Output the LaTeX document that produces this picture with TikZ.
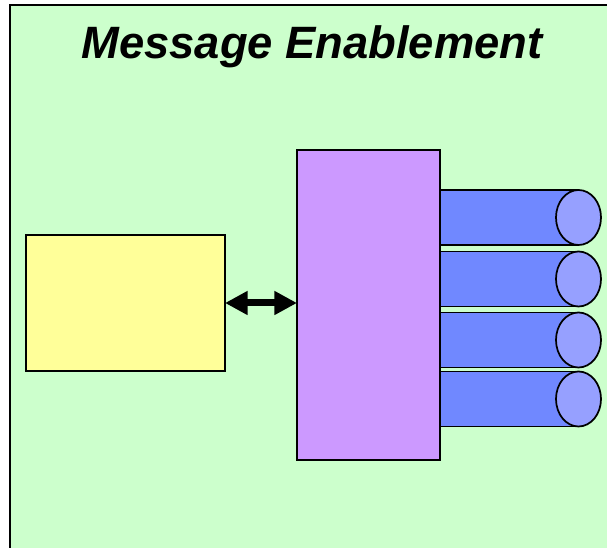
\documentclass[tikz,border=0pt]{standalone}
\usepackage{fontspec}
\setmainfont{Liberation Sans}
\usetikzlibrary{arrows.meta}
\definecolor{bggreen}{RGB}{204,255,204}
\definecolor{boxyellow}{RGB}{255,255,153}
\definecolor{boxpurple}{RGB}{204,153,255}
\definecolor{cylblue}{RGB}{112,136,255}
\definecolor{cylend}{RGB}{150,160,255}
\tikzset{
	box/.style={draw=black, line width=1.5pt, inner sep=0pt, outer sep=0pt},
	cyl/.style={draw=black, line width=1.3pt, fill=cylblue},
	cylcap/.style={draw=black, line width=1.3pt, fill=cylend}
}

\begin{document}
\begin{tikzpicture}[x=0.75pt, y=-0.75pt]
		%%%%% START %%%%%
		\useasboundingbox (0, 0) rectangle (607, 548);
		\clip (0, 0) rectangle (607, 548);
		
		\draw[fill=bggreen, line width=1.5pt] (10, 5) rectangle (620, 560);
		
		\node[anchor=base, font=\fontsize{34}{40}\selectfont\bfseries\itshape] (title) at (312, 59) {Message Enablement};
		
		\foreach \c in {217.5, 279, 340, 399} {
			\draw[cyl] (430, \c-27.5) rectangle (578.5, \c+27.5);
			\draw[cylcap] (578.5, \c) ellipse [x radius=22.5, y radius=27.5];
		}
		
		\node[box, fill=boxyellow, minimum width=149.25pt, minimum height=102pt] (client) at (125.5, 303) {};
		\node[box, fill=boxpurple, minimum width=107.25pt, minimum height=232.5pt] (hub) at (368.5, 305) {};
		
		\draw[line width=5.25pt, {Triangle[length=17pt, width=17pt]}-{Triangle[length=17pt, width=17pt]}] (client.east |- 0, 303) -- (hub.west |- 0, 303);
		
		%%%%% END %%%%%
	\end{tikzpicture}
\end{document}
